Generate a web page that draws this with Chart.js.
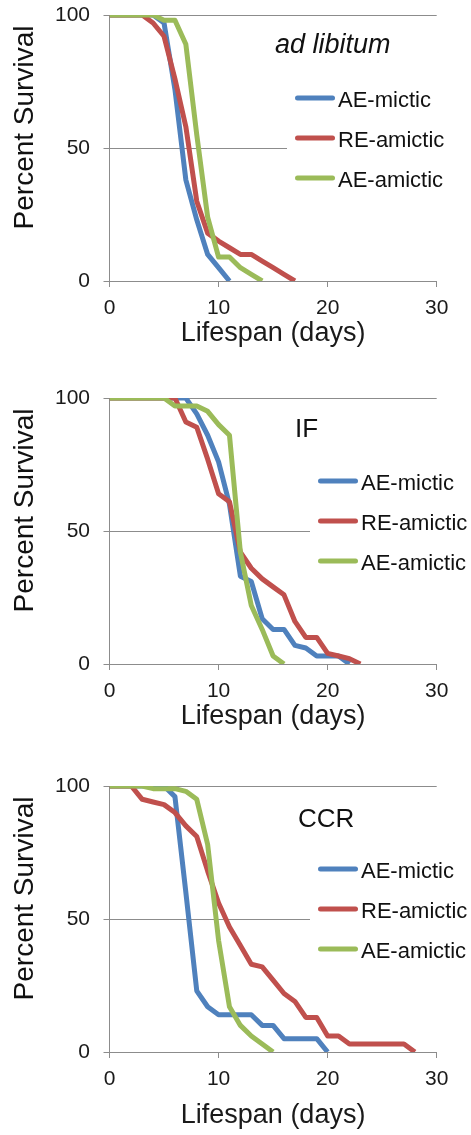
<!DOCTYPE html>
<html><head><meta charset="utf-8">
<script src="https://cdn.jsdelivr.net/npm/chart.js@4.4.1/dist/chart.umd.min.js"></script>
<style>
html,body{margin:0;padding:0;background:#fff;overflow:hidden;}
#wrap{position:relative;width:471px;height:1135px;overflow:hidden;}
.panel{position:absolute;left:0;width:471px;height:380px;}
canvas{display:block;}
</style></head><body>
<div id="wrap">
<div class="panel" style="top:0px"><canvas id="c1" width="471" height="380"></canvas></div>
<div class="panel" style="top:383px"><canvas id="c2" width="471" height="380"></canvas></div>
<div class="panel" style="top:771px"><canvas id="c3" width="471" height="380"></canvas></div>
</div>
<script>
// ---- data (percent survival by day; index = day) ----
const seriesNames = ['AE-mictic', 'RE-amictic', 'AE-amictic'];
const panelTitles = ['ad libitum', 'IF', 'CCR'];
const xTicks = [0, 10, 20, 30];
const yTicks = [0, 50, 100];
const xTitle = 'Lifespan (days)';
const yTitle = 'Percent Survival';

const adlibAEmictic  = [100,100,100,100,100,97,72,38,23,10,5,0];
const adlibREamictic = [100,100,100,100,97,92,76,58,30,18,15,12.5,10,10,7.5,5,2.5,0];
const adlibAEamictic = [100,100,100,100,100,98,98,89,55,24,9,9,5,2.5,0];

const ifAEmictic  = [100,100,100,100,100,100,100,100,94,86,76,60,33,31,17,13,13,7,6,3,3,3,0];
const ifREamictic = [100,100,100,100,100,100,100,91,89,77,64,61,42,36,32,29,26,16,10,10,4,3,2,0];
const ifAEamictic = [100,100,100,100,100,100,97,97,97,95,90,86,42,22,13,3,0];

const ccrAEmictic  = [100,100,100,100,100,100,96,60,23,17,14,14,14,14,10,10,5,5,5,5,0];
const ccrREamictic = [100,100,100,95,94,93,90,85,81,68,56,47,40,33,32,27,22,19,13,13,6,6,3,3,3,3,3,3,0];
const ccrAEamictic = [100,100,100,100,99,99,99,98,95,78,42,17,10,6,3,0];

// ---- styling ----
const colors = ['#4F81BD', '#C0504D', '#9BBB59'];
const FONT = '"Liberation Sans", Arial, Helvetica, sans-serif';
const GRID = '#8c8c8c';

const toPoints = arr => arr.map((v, i) => ({x: i, y: v}));

const decor = {
  id: 'decor',
  beforeDatasetsDraw(chart, args, o) {
    const ca = chart.chartArea, ctx = chart.ctx;
    ctx.save();
    ctx.fillStyle = '#ffffff';
    ctx.fillRect(o.boxLeft, ca.top + 40, ca.right - o.boxLeft + 3, 150);
    ctx.restore();
  },
  afterDatasetsDraw(chart, args, o) {
    const ca = chart.chartArea, ctx = chart.ctx;
    ctx.save();
    ctx.fillStyle = '#111';
    ctx.textAlign = 'left';
    ctx.textBaseline = 'alphabetic';
    ctx.font = (o.italic ? 'italic ' : '') + o.titleSize + 'px ' + FONT;
    ctx.fillText(o.title, o.titleX, ca.top + o.titleDy);
    chart.data.datasets.forEach((ds, i) => {
      const y = ca.top + 83 + 40 * i;
      ctx.strokeStyle = ds.borderColor;
      ctx.lineWidth = 5;
      ctx.lineCap = 'round';
      ctx.beginPath();
      ctx.moveTo(o.legendX + 2.5, y);
      ctx.lineTo(o.legendX + 37.5, y);
      ctx.stroke();
      ctx.font = '22px ' + FONT;
      ctx.textBaseline = 'middle';
      ctx.fillStyle = '#111';
      ctx.fillText(ds.label, o.legendX + 43, y + 2.5);
    });
    ctx.translate(25, ca.top + 112.5);
    ctx.rotate(-Math.PI / 2);
    ctx.textAlign = 'center';
    ctx.textBaseline = 'middle';
    ctx.font = '28px ' + FONT;
    ctx.fillText(yTitle, 0, 0);
    ctx.restore();
  }
};

function makeChart(id, series, deco) {
  const ds = series.map((arr, i) => ({
    label: seriesNames[i],
    data: toPoints(arr),
    borderColor: colors[i],
    backgroundColor: colors[i],
    borderWidth: 5,
    pointRadius: 0,
    tension: 0,
    fill: false,
    borderJoinStyle: 'round',
    order: 2 - i
  }));
  return new Chart(document.getElementById(id), {
    type: 'line',
    data: {datasets: ds},
    plugins: [decor],
    options: {
      responsive: false,
      animation: false,
      devicePixelRatio: 1,
      layout: {padding: {left: 0, right: 34.3, top: 15, bottom: 0}},
      plugins: {legend: {display: false}, tooltip: {enabled: false}, decor: deco},
      scales: {
        x: {
          type: 'linear', min: 0, max: 30,
          afterBuildTicks: s => { s.ticks = xTicks.map(v => ({value: v})); },
          afterFit: s => { s.height = 99; s.paddingLeft = 0; s.paddingRight = 0; },
          grid: {drawOnChartArea: false, drawTicks: true, tickLength: 6, color: GRID, tickColor: GRID},
          border: {display: true, color: GRID, width: 1},
          ticks: {padding: 9, color: '#1a1a1a', font: {family: FONT, size: 21}, maxRotation: 0},
          title: {display: true, text: xTitle, color: '#1a1a1a', font: {family: FONT, size: 27}, padding: {top: 0, bottom: deco.xTitlePad}}
        },
        y: {
          type: 'linear', min: 0, max: 100,
          afterBuildTicks: s => { s.ticks = yTicks.map(v => ({value: v})); },
          afterFit: s => { s.width = 109.5; s.paddingTop = 0; s.paddingBottom = 0; },
          grid: {drawOnChartArea: true, drawTicks: true, tickLength: 6, color: GRID, tickColor: GRID},
          border: {display: true, color: GRID, width: 1},
          ticks: {padding: 13.5, color: '#1a1a1a', font: {family: FONT, size: 21}}
        }
      }
    }
  });
}

makeChart('c1', [adlibAEmictic, adlibREamictic, adlibAEamictic],
  {title: panelTitles[0], italic: true, titleSize: 27, titleX: 275, titleDy: 38, legendX: 295, boxLeft: 287, xTitlePad: 30});
makeChart('c2', [ifAEmictic, ifREamictic, ifAEamictic],
  {title: panelTitles[1], italic: false, titleSize: 26, titleX: 295, titleDy: 39, legendX: 318, boxLeft: 310, xTitlePad: 30});
makeChart('c3', [ccrAEmictic, ccrREamictic, ccrAEamictic],
  {title: panelTitles[2], italic: false, titleSize: 26, titleX: 298, titleDy: 41, legendX: 318, boxLeft: 310, xTitlePad: 19});
</script>
</body></html>
